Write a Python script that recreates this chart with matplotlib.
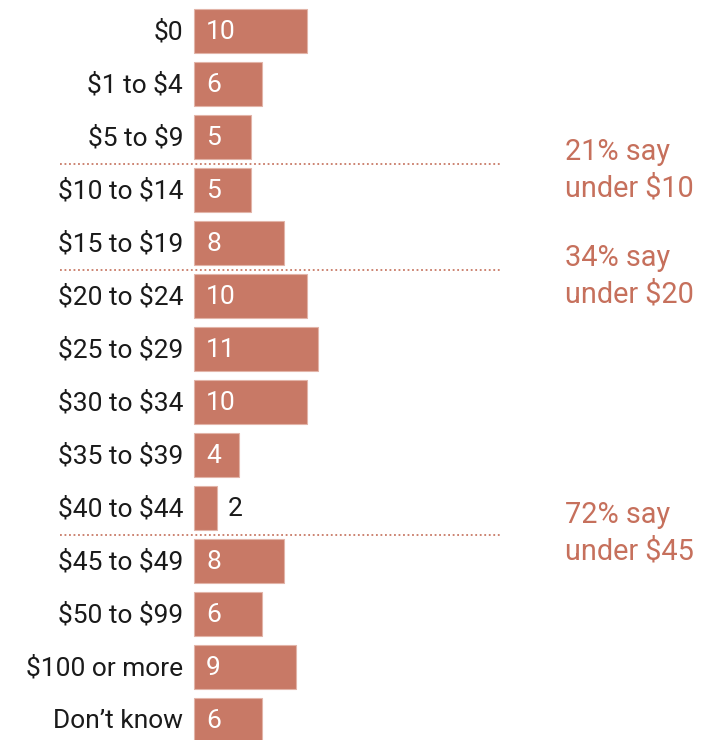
import numpy as np
import matplotlib.pyplot as plt

plt.rcParams['font.family'] = ['Roboto', 'DejaVu Sans']
plt.rcParams['text.parse_math'] = False

# survey answers, top to bottom
categories = ['$0', '$1 to $4', '$5 to $9', '$10 to $14', '$15 to $19',
              '$20 to $24', '$25 to $29', '$30 to $34', '$35 to $39',
              '$40 to $44', '$45 to $49', '$50 to $99', '$100 or more',
              'Don\u2019t know']
shares = [10, 6, 5, 5, 8, 10, 11, 10, 4, 2, 8, 6, 9, 6]

# cumulative notes: (row boundary, text, text row)
notes = [(2.5, '21% say\nunder $10', 2.63),
         (4.5, '34% say\nunder $20', 4.62),
         (9.5, '72% say\nunder $45', 9.48)]

bar_color = '#c87966'
note_color = '#c6705c'

W, H = 712, 740
fig = plt.figure(figsize=(W / 100, H / 100), dpi=100)
ax = fig.add_axes([0, 0, 1, 1])

px_per_unit = 11.3
x0 = 194
row_h = 53
y0 = 31
ax.set_xlim(-x0 / px_per_unit, (W - x0) / px_per_unit)
ax.set_ylim((H - y0) / row_h, -y0 / row_h)
ax.axis('off')

y = np.arange(len(categories))
ax.barh(y, shares, height=44 / row_h, left=0, color=bar_color,
        edgecolor='#e2b4a8', linewidth=0.8)

fs = 19
for i, (cat, v) in enumerate(zip(categories, shares)):
    ax.text(-11 / px_per_unit, i + 0.02, cat, ha='right', va='center',
            fontsize=fs, color='#1a1a1a')
    if v >= 3:
        ax.text(12 / px_per_unit, i + 0.02, str(v), ha='left', va='center',
                fontsize=fs, color='white')
    else:
        ax.text(v + 11 / px_per_unit, i + 0.02, str(v), ha='left',
                va='center', fontsize=fs, color='#1a1a1a')

for yb, txt, yt in notes:
    ax.plot([(60 - x0) / px_per_unit, (502 - x0) / px_per_unit], [yb, yb],
            color=bar_color, linestyle=(0, (1, 1.5)), linewidth=1.3)
    ax.text((565 - x0) / px_per_unit, yt, txt, ha='left', va='center',
            fontsize=20.8, color=note_color, linespacing=1.38)

fig.savefig('out.png', dpi=100)
